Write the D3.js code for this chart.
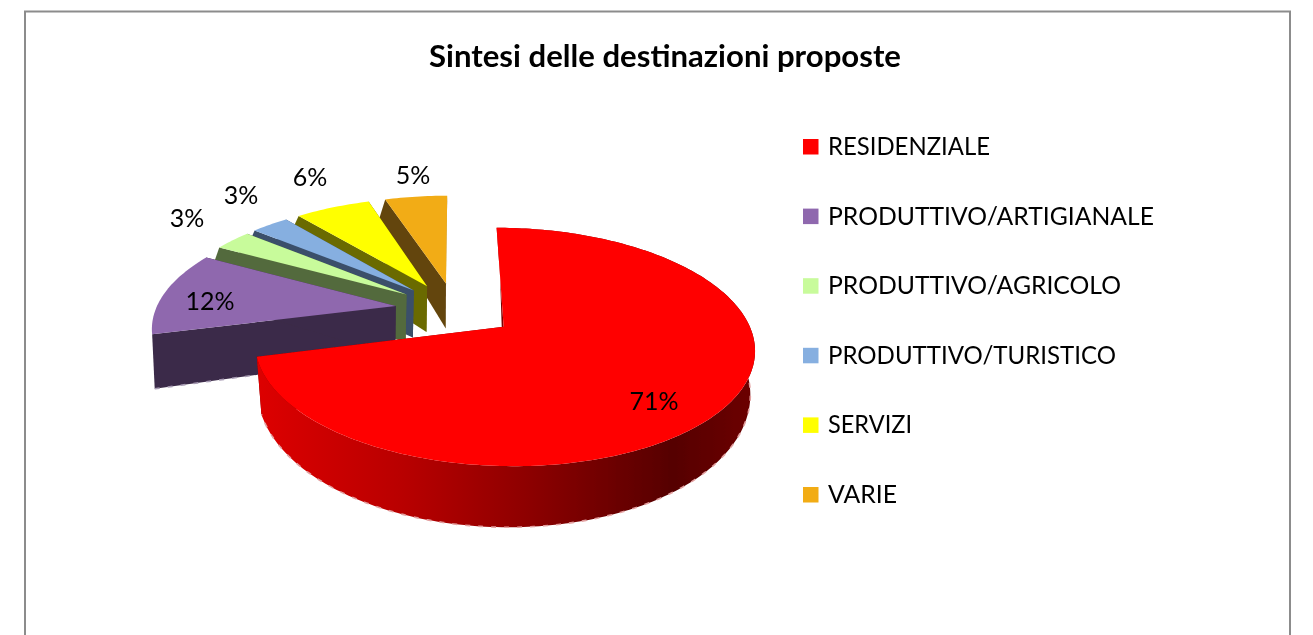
<!DOCTYPE html>
<html><head><meta charset="utf-8">
<script src="https://cdn.jsdelivr.net/npm/d3@7/dist/d3.min.js"></script>
<style>html,body{margin:0;background:#fff;overflow:hidden}svg{display:block}text{font-family:Lato,"Open Sans",sans-serif;fill:#000}</style>
</head><body><svg id="c" width="1313" height="635"></svg>
<script>
const titleText = "Sintesi delle destinazioni proposte";
const categories = ["RESIDENZIALE","PRODUTTIVO/ARTIGIANALE","PRODUTTIVO/AGRICOLO","PRODUTTIVO/TURISTICO","SERVIZI","VARIE"];
const values = [71,12,3,3,6,5];
const topColors = ["#ff0000","#8f68ae","#c8fb9b","#86afe0","#ffff00","#f2ac14"];
const sideColors = ["#7a0000","#3b2a48","#536a3c","#3a4f6b","#6b6b00","#63450a"];
const fringeColors = ["#e3a0a0","#a79bb3","#a9b59c","#9aa7b5","#b5b580","#b5a27f"];
const labelPos = [[654,401],[210,301],[187,218],[241,195],[310,177],[413,175]];
const legendWidths = [162,326,293,288,84,69];

const svg = d3.select("#c");
const defs = svg.append("defs");
defs.append("filter").attr("id","soft").attr("x","-5%").attr("y","-5%").attr("width","110%").attr("height","110%")
  .append("feGaussianBlur").attr("stdDeviation",0.7);
defs.append("filter").attr("id","softText").attr("x","-5%").attr("y","-20%").attr("width","110%").attr("height","140%")
  .append("feGaussianBlur").attr("stdDeviation",0.35);

svg.append("rect").attr("x",25).attr("y",11.5).attr("width",1265).attr("height",640)
  .attr("fill","#fff").attr("stroke","#8c8c8c").attr("stroke-width",2);

svg.append("text").attr("x",429).attr("y",67).attr("textLength",472).attr("lengthAdjust","spacingAndGlyphs")
  .attr("font-size",30.5).attr("font-weight",700).attr("filter","url(#softText)").text(titleText);

// projective mapping of the pie plane to the screen, upper and lower surface
const explode = 0.25, cx = 455;
const upper = {A:240,B:110,p:0.165,c:309.5};
const lower = {A:242,B:130,p:0.09,c:360};
const proj = (s,u,v)=>{const w=1+s.p*v;return [cx+s.A*u/w, s.c-s.B*v/w];};

const arcs = d3.pie().sort(null).value(d=>d)(values);
const line = d3.line();
const grad = defs.append("linearGradient").attr("id","redWall").attr("gradientUnits","userSpaceOnUse")
  .attr("x1",258).attr("x2",745).attr("y1",0).attr("y2",0);
[[0,"#dd0000"],[0.3,"#b80000"],[0.55,"#8e0000"],[0.85,"#560000"],[1,"#6a0000"]]
  .forEach(([o,c])=>grad.append("stop").attr("offset",o).attr("stop-color",c));

const pieG = svg.append("g").attr("filter","url(#soft)");
d3.range(values.length).reverse().forEach(i=>{
  const a = arcs[i], mid=(a.startAngle+a.endAngle)/2;
  const ou = explode*Math.sin(mid), ov = explode*Math.cos(mid);
  const n = Math.max(4,Math.ceil((a.endAngle-a.startAngle)/0.02));
  const angles = d3.range(n+1).map(k=>a.startAngle+(a.endAngle-a.startAngle)*k/n);
  const rim = s=>angles.map(t=>proj(s,ou+Math.sin(t),ov+Math.cos(t)));
  const apex = s=>proj(s,ou,ov);
  const rt = rim(upper), rb = rim(lower), at = apex(upper), ab = apex(lower);
  const g = pieG.append("g");
  const side = sideColors[i];
  g.append("path").attr("d",line([at,rt[0],rb[0],ab])+"Z").attr("fill",side);
  g.append("path").attr("d",line([at,rt[n],rb[n],ab])+"Z").attr("fill",side);
  if(i===0){
    g.append("path").attr("d",line(rt.concat(rb.slice().reverse()))+"Z").attr("fill","url(#redWall)");
  }
  if(i<=1){
    g.append("path").attr("d",line(i===0?rb:[rb[0],ab])).attr("fill","none")
      .attr("stroke",fringeColors[i]).attr("stroke-width",1.6).attr("stroke-dasharray","5 8");
  }
  g.append("path").attr("d",line([at].concat(rt))+"Z").attr("fill",topColors[i]);
});

const textG = svg.append("g").attr("filter","url(#softText)");
values.forEach((v,i)=>{
  textG.append("text").attr("x",labelPos[i][0]).attr("y",labelPos[i][1]+9)
    .attr("text-anchor","middle").attr("font-size",25).text(v+"%");
});

const legendY = d3.scalePoint().domain(categories).range([146.5,494.5]);
categories.forEach((c,i)=>{
  svg.append("rect").attr("x",803).attr("y",legendY(c)-7.5).attr("width",15.5).attr("height",15.5).attr("fill",topColors[i]);
  textG.append("text").attr("x",828).attr("y",legendY(c)+8.5).attr("font-size",25)
    .attr("textLength",legendWidths[i]).attr("lengthAdjust","spacingAndGlyphs").text(c);
});
</script></body></html>
